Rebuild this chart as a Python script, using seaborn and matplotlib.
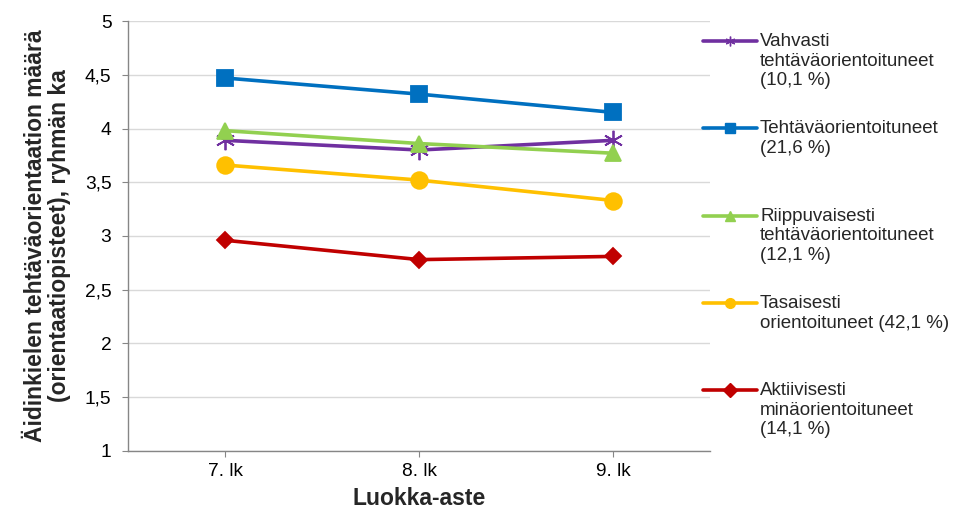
import pandas as pd
import matplotlib.pyplot as plt
import seaborn as sns
from matplotlib.lines import Line2D

# Luokka-asteet ja ryhmät
luokat = ['7. lk', '8. lk', '9. lk']
ryhmat = [
    'Vahvasti\ntehtäväorientoituneet\n(10,1 %)',
    'Tehtäväorientoituneet\n(21,6 %)',
    'Riippuvaisesti\ntehtäväorientoituneet\n(12,1 %)',
    'Tasaisesti\norientoituneet (42,1 %)',
    'Aktiivisesti\nminäorientoituneet\n(14,1 %)',
]
vahvasti = [3.89, 3.80, 3.89]
tehtava = [4.47, 4.32, 4.15]
riippuvaisesti = [3.98, 3.86, 3.77]
tasaisesti = [3.66, 3.52, 3.33]
aktiivisesti = [2.96, 2.78, 2.81]

varit = ['#7030A0', '#0070C0', '#92D050', '#FFC000', '#C00000']
merkit = [(6, 2, 0), 's', '^', 'o', 'D']
koot = [14, 11, 11, 12, 8]

arvot = [vahvasti, tehtava, riippuvaisesti, tasaisesti, aktiivisesti]
df = pd.DataFrame([
    {'luokka': l, 'ryhma': r, 'ka': v}
    for r, vals in zip(ryhmat, arvot) for l, v in zip(luokat, vals)
])

sns.set_style('white')
plt.rcParams['font.family'] = ['Liberation Sans', 'DejaVu Sans']

fig = plt.figure(figsize=(9.56, 5.13), dpi=100)
ax = fig.add_axes([0.134, 0.121, 0.609, 0.838])

for r, c, m, s in zip(ryhmat, varit, merkit, koot):
    sns.lineplot(data=df[df['ryhma'] == r], x='luokka', y='ka', color=c,
                 marker=m, markersize=s, markeredgecolor=c,
                 markeredgewidth=1.3, linewidth=2.6, ax=ax, legend=False)

ax.set_xlim(-0.5, 2.5)
ax.set_ylim(1, 5)
yt = [1 + 0.5 * i for i in range(9)]
ax.set_yticks(yt)
ax.set_yticklabels([f'{v:g}'.replace('.', ',') for v in yt])
ax.set_xticks(range(len(luokat)))
ax.set_xticklabels(luokat)
ax.grid(axis='y', color='#D9D9D9', linewidth=1)
ax.set_axisbelow(True)
for sp in ['top', 'right']:
    ax.spines[sp].set_visible(False)
for sp in ['left', 'bottom']:
    ax.spines[sp].set_color('#868686')
    ax.spines[sp].set_linewidth(1)
ax.tick_params(axis='both', labelsize=13.8, colors='#868686', length=4,
               direction='out', labelcolor='#000000', left=True, bottom=True)
ax.tick_params(axis='x', pad=5)
ax.tick_params(axis='y', pad=8)
ax.set_xlabel('Luokka-aste', fontsize=16.5, fontweight='bold', labelpad=5)
ax.set_ylabel('Äidinkielen tehtäväorientaation määrä\n(orientaatiopisteet), ryhmän ka',
              fontsize=16.5, fontweight='bold', labelpad=10, linespacing=1.05)

# selite käsin, jotta teksti alkaa merkin kohdalta
y0 = 1 - 41 / 513
dy = 87.3 / 513
for i, (r, c, m) in enumerate(zip(ryhmat, varit, merkit)):
    y = y0 - i * dy
    fig.add_artist(Line2D([703 / 956, 757 / 956], [y, y], color=c, linewidth=2.6,
                          transform=fig.transFigure))
    fig.add_artist(Line2D([730 / 956], [y], color=c, marker=m, markersize=7,
                          markeredgecolor=c, markeredgewidth=1,
                          transform=fig.transFigure))
    fig.text(760 / 956, y + 8 / 513, r, fontsize=13.5, va='top', ha='left',
             linespacing=1.2)

fig.savefig('out.png', dpi=100)
